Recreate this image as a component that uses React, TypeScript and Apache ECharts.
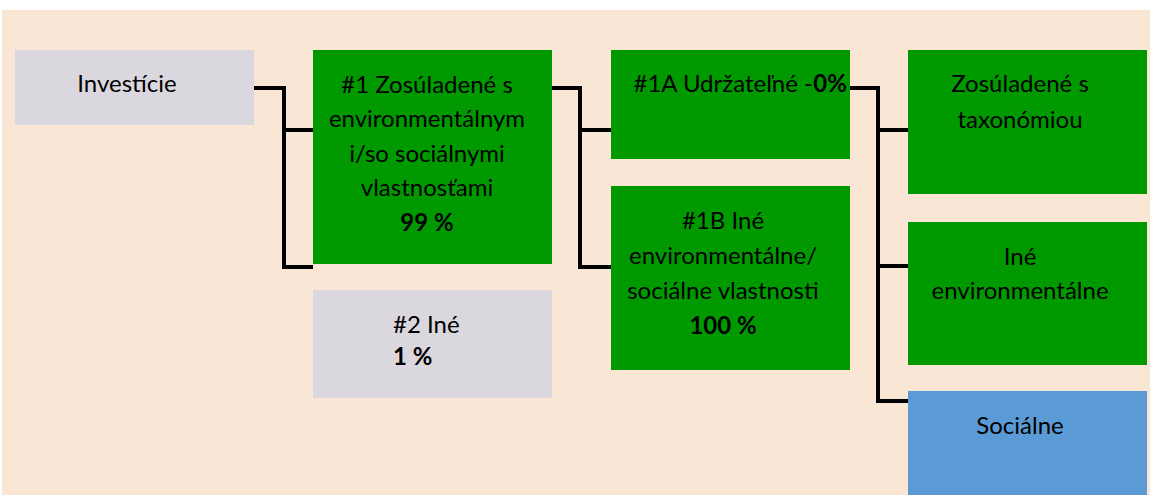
import React, { useEffect, useRef } from 'react';
import * as echarts from 'echarts';

// ---- data ----
const nodeLines: string[][] = [
  ['Investície'],
  ['#1 Zosúladené s', 'environmentálnym', 'i/so sociálnymi', 'vlastnosťami'],
  ['#1A Udržateľné -'],
  ['#1B Iné', 'environmentálne/', 'sociálne vlastnosti'],
  ['Zosúladené s', 'taxonómiou'],
  ['Iné', 'environmentálne'],
  ['Sociálne'],
  ['#2 Iné'],
];
const nodeShares: string[] = ['', '99 %', '0%', '100 %', '', '', '', '1 %'];
const shareInline: boolean[] = [false, false, true, false, false, false, false, false];
const nodeKinds: string[] = ['other', 'aligned', 'aligned', 'aligned', 'aligned', 'aligned', 'social', 'other'];
const edges: number[][] = [
  [0, 1], [0, 7], [1, 2], [1, 3], [2, 4], [2, 5], [2, 6],
];

// ---- layout (data units = pixels) ----
const boxRects: number[][] = [
  [15, 50, 254, 125],
  [313, 50, 552, 264],
  [611, 50, 850, 159],
  [611, 186, 850, 370],
  [908, 50, 1147, 194],
  [908, 222, 1147, 365],
  [908, 391, 1147, 495],
  [313, 290, 552, 398],
];
// [x, firstLineY, lineHeight, align]
const textPos: any[][] = [
  [127, 82, 34, 'center'],
  [427, 83, 34.5, 'center'],
  [740, 82, 34, 'center'],
  [723, 219, 35, 'center'],
  [1020, 82, 36, 'center'],
  [1020, 255, 34, 'center'],
  [1020, 424, 34, 'center'],
  [393, 323, 32, 'left'],
];
const busX: number[] = [284, 580, 878];
const exitY: number[] = [88, 88, 88];
const edgeEntryY: number[] = [130, 267, 130, 267, 130, 266, 401];

const kindColor: Record<string, string> = {
  other: '#DAD7DF',
  aligned: '#009900',
  social: '#5B9BD5',
};

const FONT = 'Lato';
const FS = 24;

export default function App() {
  const ref = useRef<HTMLDivElement>(null);
  useEffect(() => {
    if (!ref.current) return;
    const chart = echarts.init(ref.current, undefined, { renderer: 'svg' });

    const boxData = boxRects.map((r, i) => [r[0], r[1], r[2], r[3], i]);
    const edgeData = edges.map((e, k) => {
      const p = boxRects[e[0]];
      const c = boxRects[e[1]];
      const level = e[0] === 0 ? 0 : e[0] === 1 ? 1 : 2;
      return [p[2], exitY[level], busX[level], edgeEntryY[k], c[0]];
    });

    const option: any = {
      animation: false,
      backgroundColor: '#FFFFFF',
      grid: { left: 0, right: 0, top: 0, bottom: 0 },
      xAxis: { type: 'value', min: 0, max: 1150, show: false },
      yAxis: { type: 'value', min: 0, max: 495, inverse: true, show: false },
      graphic: [
        {
          type: 'rect',
          shape: { x: 2, y: 10, width: 1148, height: 485 },
          style: { fill: '#F9E6D4' },
          z: -10,
        },
      ],
      series: [
        {
          type: 'custom',
          name: 'connectors',
          coordinateSystem: 'cartesian2d',
          data: edgeData,
          z: 1,
          renderItem: (params: any, api: any) => {
            const px = api.value(0), py = api.value(1), bx = api.value(2), ey = api.value(3), cx = api.value(4);
            const pts = [
              api.coord([px, py]),
              api.coord([bx, py]),
              api.coord([bx, ey]),
              api.coord([cx, ey]),
            ];
            return {
              type: 'polyline',
              shape: { points: pts },
              style: { stroke: '#000000', lineWidth: 4, fill: null, lineJoin: 'miter' },
            };
          },
        },
        {
          type: 'custom',
          name: 'boxes',
          coordinateSystem: 'cartesian2d',
          data: boxData,
          z: 2,
          renderItem: (params: any, api: any) => {
            const i = api.value(4);
            const p0 = api.coord([api.value(0), api.value(1)]);
            const p1 = api.coord([api.value(2), api.value(3)]);
            const children: any[] = [
              {
                type: 'rect',
                shape: { x: p0[0], y: p0[1], width: p1[0] - p0[0], height: p1[1] - p0[1] },
                style: { fill: kindColor[nodeKinds[i]] },
              },
            ];
            const tp = textPos[i];
            const lines = nodeLines[i].slice();
            if (nodeShares[i]) {
              if (shareInline[i]) lines[lines.length - 1] = lines[lines.length - 1] + '{b|' + nodeShares[i] + '}';
              else lines.push('{b|' + nodeShares[i] + '}');
            }
            lines.forEach((ln, j) => {
              const pt = api.coord([tp[0], tp[1] + j * tp[2]]);
              children.push({
                type: 'text',
                x: pt[0],
                y: pt[1],
                style: {
                  text: ln,
                  fill: '#000000',
                  font: `${FS}px ${FONT}`,
                  fontFamily: FONT,
                  fontSize: FS,
                  align: tp[3],
                  verticalAlign: 'middle',
                  rich: {
                    b: { fontFamily: FONT, fontSize: FS, fontWeight: 'bold', fill: '#000000' },
                  },
                },
              });
            });
            return { type: 'group', children };
          },
        },
      ],
    };
    chart.setOption(option);
    return () => chart.dispose();
  }, []);
  return <div ref={ref} style={{ position: 'fixed', left: 0, top: 0, width: 1150, height: 495 }} />;
}
